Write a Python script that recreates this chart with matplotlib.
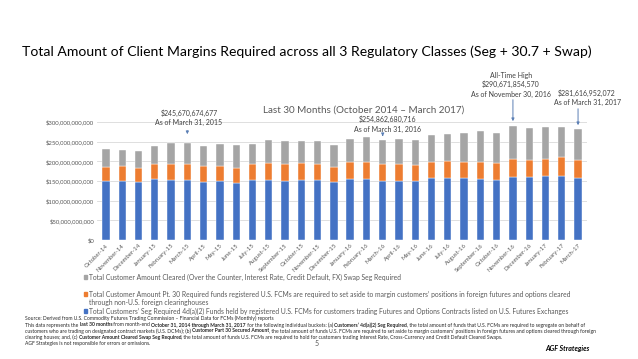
import matplotlib
matplotlib.use("Agg")
import matplotlib.pyplot as plt
from matplotlib.patches import Rectangle
import numpy as np

plt.rcParams['font.family'] = ['Lato', 'DejaVu Sans']

months = ["October-14", "November-14", "December-14", "January-15", "February-15", "March-15",
          "April-15", "May-15", "June-15", "July-15", "August-15", "September-15",
          "October-15", "November-15", "December-15", "January-16", "February-16", "March-16",
          "April-16", "May-16", "June-16", "July-16", "August-16", "September-16",
          "October-16", "November-16", "December-16", "January-17", "February-17", "March-17"]
# values in $ billions
seg = [150, 151, 147, 155, 153, 152, 148, 150, 145, 152, 152, 151,
       152, 152, 147.5, 155, 156, 151, 151, 150, 157, 158.5, 158.5, 156,
       152.5, 161, 160, 162, 163.5, 158.5]
total_30_7 = [186, 187, 183, 194, 194, 192, 187, 188, 183, 193, 196, 194,
              196, 194, 186, 197.5, 199, 192.4, 192, 190, 198, 201.7, 198, 197.5,
              195, 205, 203.4, 206, 210, 204]
total_all = [230.6, 230, 227, 240, 245.8, 245.67, 239, 243, 242, 243, 253, 251,
             252, 251, 241.5, 256, 261, 254.86, 256, 253.4, 267, 269.5, 272.8, 276.2,
             271, 290.67, 284, 286.5, 286.5, 281.62]
pt30 = [t - s for t, s in zip(total_30_7, seg)]
swap = [a - t for a, t in zip(total_all, total_30_7)]

yticks = [0, 50, 100, 150, 200, 250, 300]
ytick_labels = ["$0", "$50,000,000,000", "$100,000,000,000", "$150,000,000,000",
                "$200,000,000,000", "$250,000,000,000", "$300,000,000,000"]

legend_labels = [
    "Total Customer Amount Cleared (Over the Counter, Interest Rate, Credit Default, FX) Swap Seg Required",
    "Total Customer Amount Pt. 30 Required funds registered U.S. FCMs are required to set aside to margin customers\u2019 positions in foreign futures and options cleared\nthrough non-U.S. foreign clearinghouses",
    "Total Customers\u2019 Seg Required 4d(a)(2) Funds held by registered U.S. FCMs for customers trading Futures and Options Contracts listed on U.S. Futures Exchanges",
]

annotations = [
    (5, "$245,670,674,677\nAs of March 31, 2015"),
    (17, "$254,862,680,716\nAs of March 31, 2016"),
    (25, "All-Time High\n$290,671,854,570\nAs of November 30, 2016"),
    (29, "$281,616,952,072\nAs of March 31, 2017"),
]

BLUE = "#4472C4"
ORANGE = "#ED7D31"
GRAY = "#A5A5A5"
TXT = "#595959"

W, H = 638, 359
fig = plt.figure(figsize=(W / 100, H / 100), dpi=100)
fig.patch.set_facecolor("white")

def fx(px):
    return px / W

def fy(py):
    return 1 - py / H

ax = fig.add_axes([fx(97), fy(240), fx(587) - fx(97), fy(122) - fy(240)])
x = np.arange(len(months))
bw = 0.45
ax.bar(x, seg, bw, color=BLUE, edgecolor="white", linewidth=0.3, zorder=3)
ax.bar(x, pt30, bw, bottom=seg, color=ORANGE, edgecolor="white", linewidth=0.3, zorder=3)
ax.bar(x, swap, bw, bottom=total_30_7, color=GRAY, edgecolor="white", linewidth=0.3, zorder=3)

ax.set_xlim(-0.55, len(months) - 0.45)
ax.set_ylim(0, 300)
ax.set_yticks(yticks)
ax.set_yticklabels(ytick_labels, fontsize=4.3, color=TXT)
ax.set_xticks(x)
ax.set_xticklabels(months, rotation=45, ha="right", rotation_mode="anchor", fontsize=4.3, color=TXT)
ax.tick_params(length=0, pad=2)
ax.grid(axis="y", color="#D9D9D9", linewidth=0.6, zorder=0)
for s in ax.spines.values():
    s.set_visible(False)

fig.text(fx(364), fy(110.5), "Last 30 Months (October 2014 \u2013 March 2017)", fontsize=7.1,
         color=TXT, ha="center", va="center")

# annotations: (text center x, text center y, arrow start y, arrow end y) in pixels
ann_pos = {5: (189, 117.7, 128, 137), 17: (387, 124.3, 132, 139), 25: (511, 84.6, 97, 124),
           29: (587, 97.8, 106, 128)}
for idx, txt in annotations:
    tx, ty, ay0, ay1 = ann_pos[idx]
    fig.text(fx(tx), fy(ty), txt, fontsize=5.0, color="#404040", ha="center", va="center",
             linespacing=1.35)
    ax.annotate("", xy=(idx, (240 - ay1) / 0.3933), xytext=(idx, (240 - ay0) / 0.3933),
                xycoords="data", textcoords="data", annotation_clip=False,
                arrowprops=dict(arrowstyle="-|>", color="#5B7FB5", lw=0.7, mutation_scale=4))

# title fitted to width
title = fig.text(fx(22), fy(52), "Total Amount of Client Margins Required across all 3 Regulatory Classes (Seg + 30.7 + Swap)",
                 fontsize=12, color="black", ha="left", va="center")
fig.canvas.draw()
r = fig.canvas.get_renderer()
w = title.get_window_extent(r).width
title.set_fontsize(12 * 568 / w)

# legend
leg_rows = [(277, GRAY, legend_labels[0]), (294, ORANGE, legend_labels[1]), (311, BLUE, legend_labels[2])]
for py, col, lab in leg_rows:
    fig.patches.append(Rectangle((fx(83.5), fy(py) - 1.6 / H), 3.2 / W, 3.2 / H, transform=fig.transFigure,
                                 color=col, figure=fig))
    for k, ln in enumerate(lab.split("\n")):
        fig.text(fx(89), fy(py + k * 8.7), ln, fontsize=4.85, color=TXT, ha="left", va="center")

# source text with bold runs
src_lines = [
    (318, [("Source: Derived from U.S. Commodity Futures Trading Commission \u2013 Financial Data for FCMs (Monthly) reports", False)]),
    (325, [("This data represents the ", False), ("last 30 months", True), (" from month-end ", False),
           ("October 31, 2014 through March 31, 2017", True), (" for the following individual buckets: (a) ", False),
           ("Customers\u2019 4d(a)(2) Seg Required", True),
           (", the total amount of funds that U.S. FCMs are required to segregate on behalf of", False)]),
    (331, [("customers who are trading on designated contract markets (U.S. DCMs); (b) ", False),
           ("Customer Part 30 Secured Amount", True),
           (", the total amount of funds U.S. FCMs are required to set aside to margin customers\u2019 positions in foreign futures and options cleared through foreign", False)]),
    (337, [("clearing houses; and, (c) ", False), ("Customer Amount Cleared Swap Seg Required", True),
           (", the total amount of funds U.S. FCMs are required to hold for customers trading Interest Rate, Cross-Currency and Credit Default Cleared Swaps.", False)]),
    (344, [("AGF Strategies is not responsible for errors or omissions.", False)]),
]
fs_src = 3.6
fig.canvas.draw()
r = fig.canvas.get_renderer()
for py, runs in src_lines:
    cur = fx(25)
    for t, b in runs:
        tt = fig.text(cur, fy(py), t, fontsize=fs_src, color="#262626", ha="left", va="center",
                      fontweight="bold" if b else "normal")
        ext = tt.get_window_extent(r)
        cur += ext.width / W

fig.text(fx(317), fy(343), "5", fontsize=5, color=TXT, ha="center", va="center")
fig.text(fx(590), fy(348), "AGF Strategies", fontsize=5, color="black", ha="right", va="center",
         fontweight="bold", fontstyle="italic")

fig.savefig("out.png", dpi=100)
